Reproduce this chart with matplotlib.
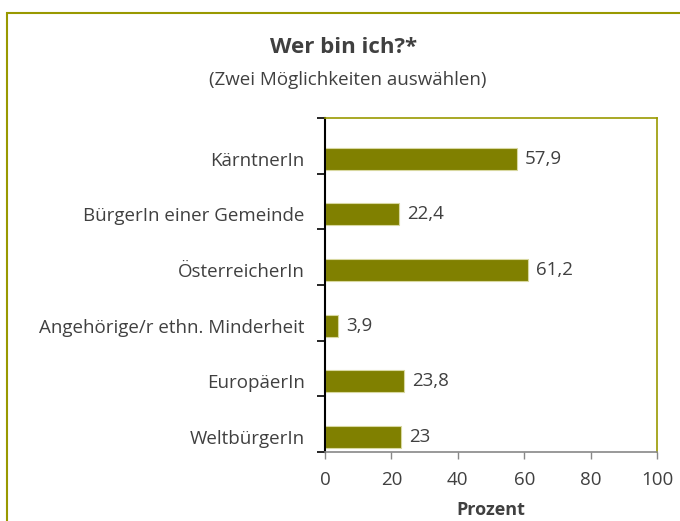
import numpy as np
import matplotlib.pyplot as plt
from matplotlib.patches import Rectangle

plt.rcParams['font.family'] = ['Open Sans', 'DejaVu Sans']

categories = ["KärntnerIn", "BürgerIn einer Gemeinde", "ÖsterreicherIn",
              "Angehörige/r ethn. Minderheit", "EuropäerIn", "WeltbürgerIn"]
values = [57.9, 22.4, 61.2, 3.9, 23.8, 23]
value_labels = ["57,9", "22,4", "61,2", "3,9", "23,8", "23"]
xticks = [0, 20, 40, 60, 80, 100]

OLIVE = "#808000"
TEXT = "#404040"
FS = 13.5

fig = plt.figure(figsize=(6.8, 5.21), dpi=100)
ax = fig.add_axes([325 / 680, 1 - 452 / 521, 332 / 680, 334 / 521])

y = np.arange(len(categories))
ax.barh(y, values, height=0.4, color=OLIVE, edgecolor="#d8d8a0", linewidth=0.8)
for yi, v, lab in zip(y, values, value_labels):
    ax.text(v + 2.4, yi, lab, va="center", ha="left", fontsize=FS, color=TEXT)

# category slots sit slightly above the bars, as in the original
shift = 0.73
ax.set_xlim(0, 100)
ax.set_ylim(len(categories) - shift, -shift)
ax.set_xticks(xticks)
ax.set_xticklabels([str(t) for t in xticks], fontsize=FS, color=TEXT)

ax.set_yticks(np.arange(len(categories) + 1) - shift)
ax.set_yticklabels([])
ax.set_yticks(y, minor=True)
ax.set_yticklabels(categories, minor=True, fontsize=FS, color=TEXT)
ax.tick_params(axis="y", which="major", length=6, width=1.2, color="black", direction="out")
ax.tick_params(axis="y", which="minor", length=0, pad=14.5)
ax.tick_params(axis="x", length=5, width=1, color="#888888", direction="out", pad=9)

ax.spines["left"].set_color("black")
ax.spines["left"].set_linewidth(1.5)
ax.spines["bottom"].set_color("#888888")
ax.spines["bottom"].set_linewidth(1.2)
ax.spines["top"].set_color("#999900")
ax.spines["right"].set_color("#999900")
ax.spines["top"].set_linewidth(1.2)
ax.spines["right"].set_linewidth(1.2)

ax.set_xlabel("Prozent", fontsize=13, fontweight="bold", color=TEXT, labelpad=8.5)

fig.text(344 / 680, 1 - 47 / 521, "Wer bin ich?*", ha="center", va="center",
         fontsize=16, fontweight="bold", color=TEXT)
fig.text(348 / 680, 1 - 80 / 521, "(Zwei Möglichkeiten auswählen)", ha="center",
         va="center", fontsize=FS, color=TEXT)

# outer chart border (runs off the right and bottom edges)
fig.patches.append(Rectangle((7 / 680, -0.1), 1.2, 1.1 - 13 / 521,
                             transform=fig.transFigure, fill=False,
                             edgecolor="#999900", linewidth=1.5))

fig.savefig("out.png", dpi=100)
